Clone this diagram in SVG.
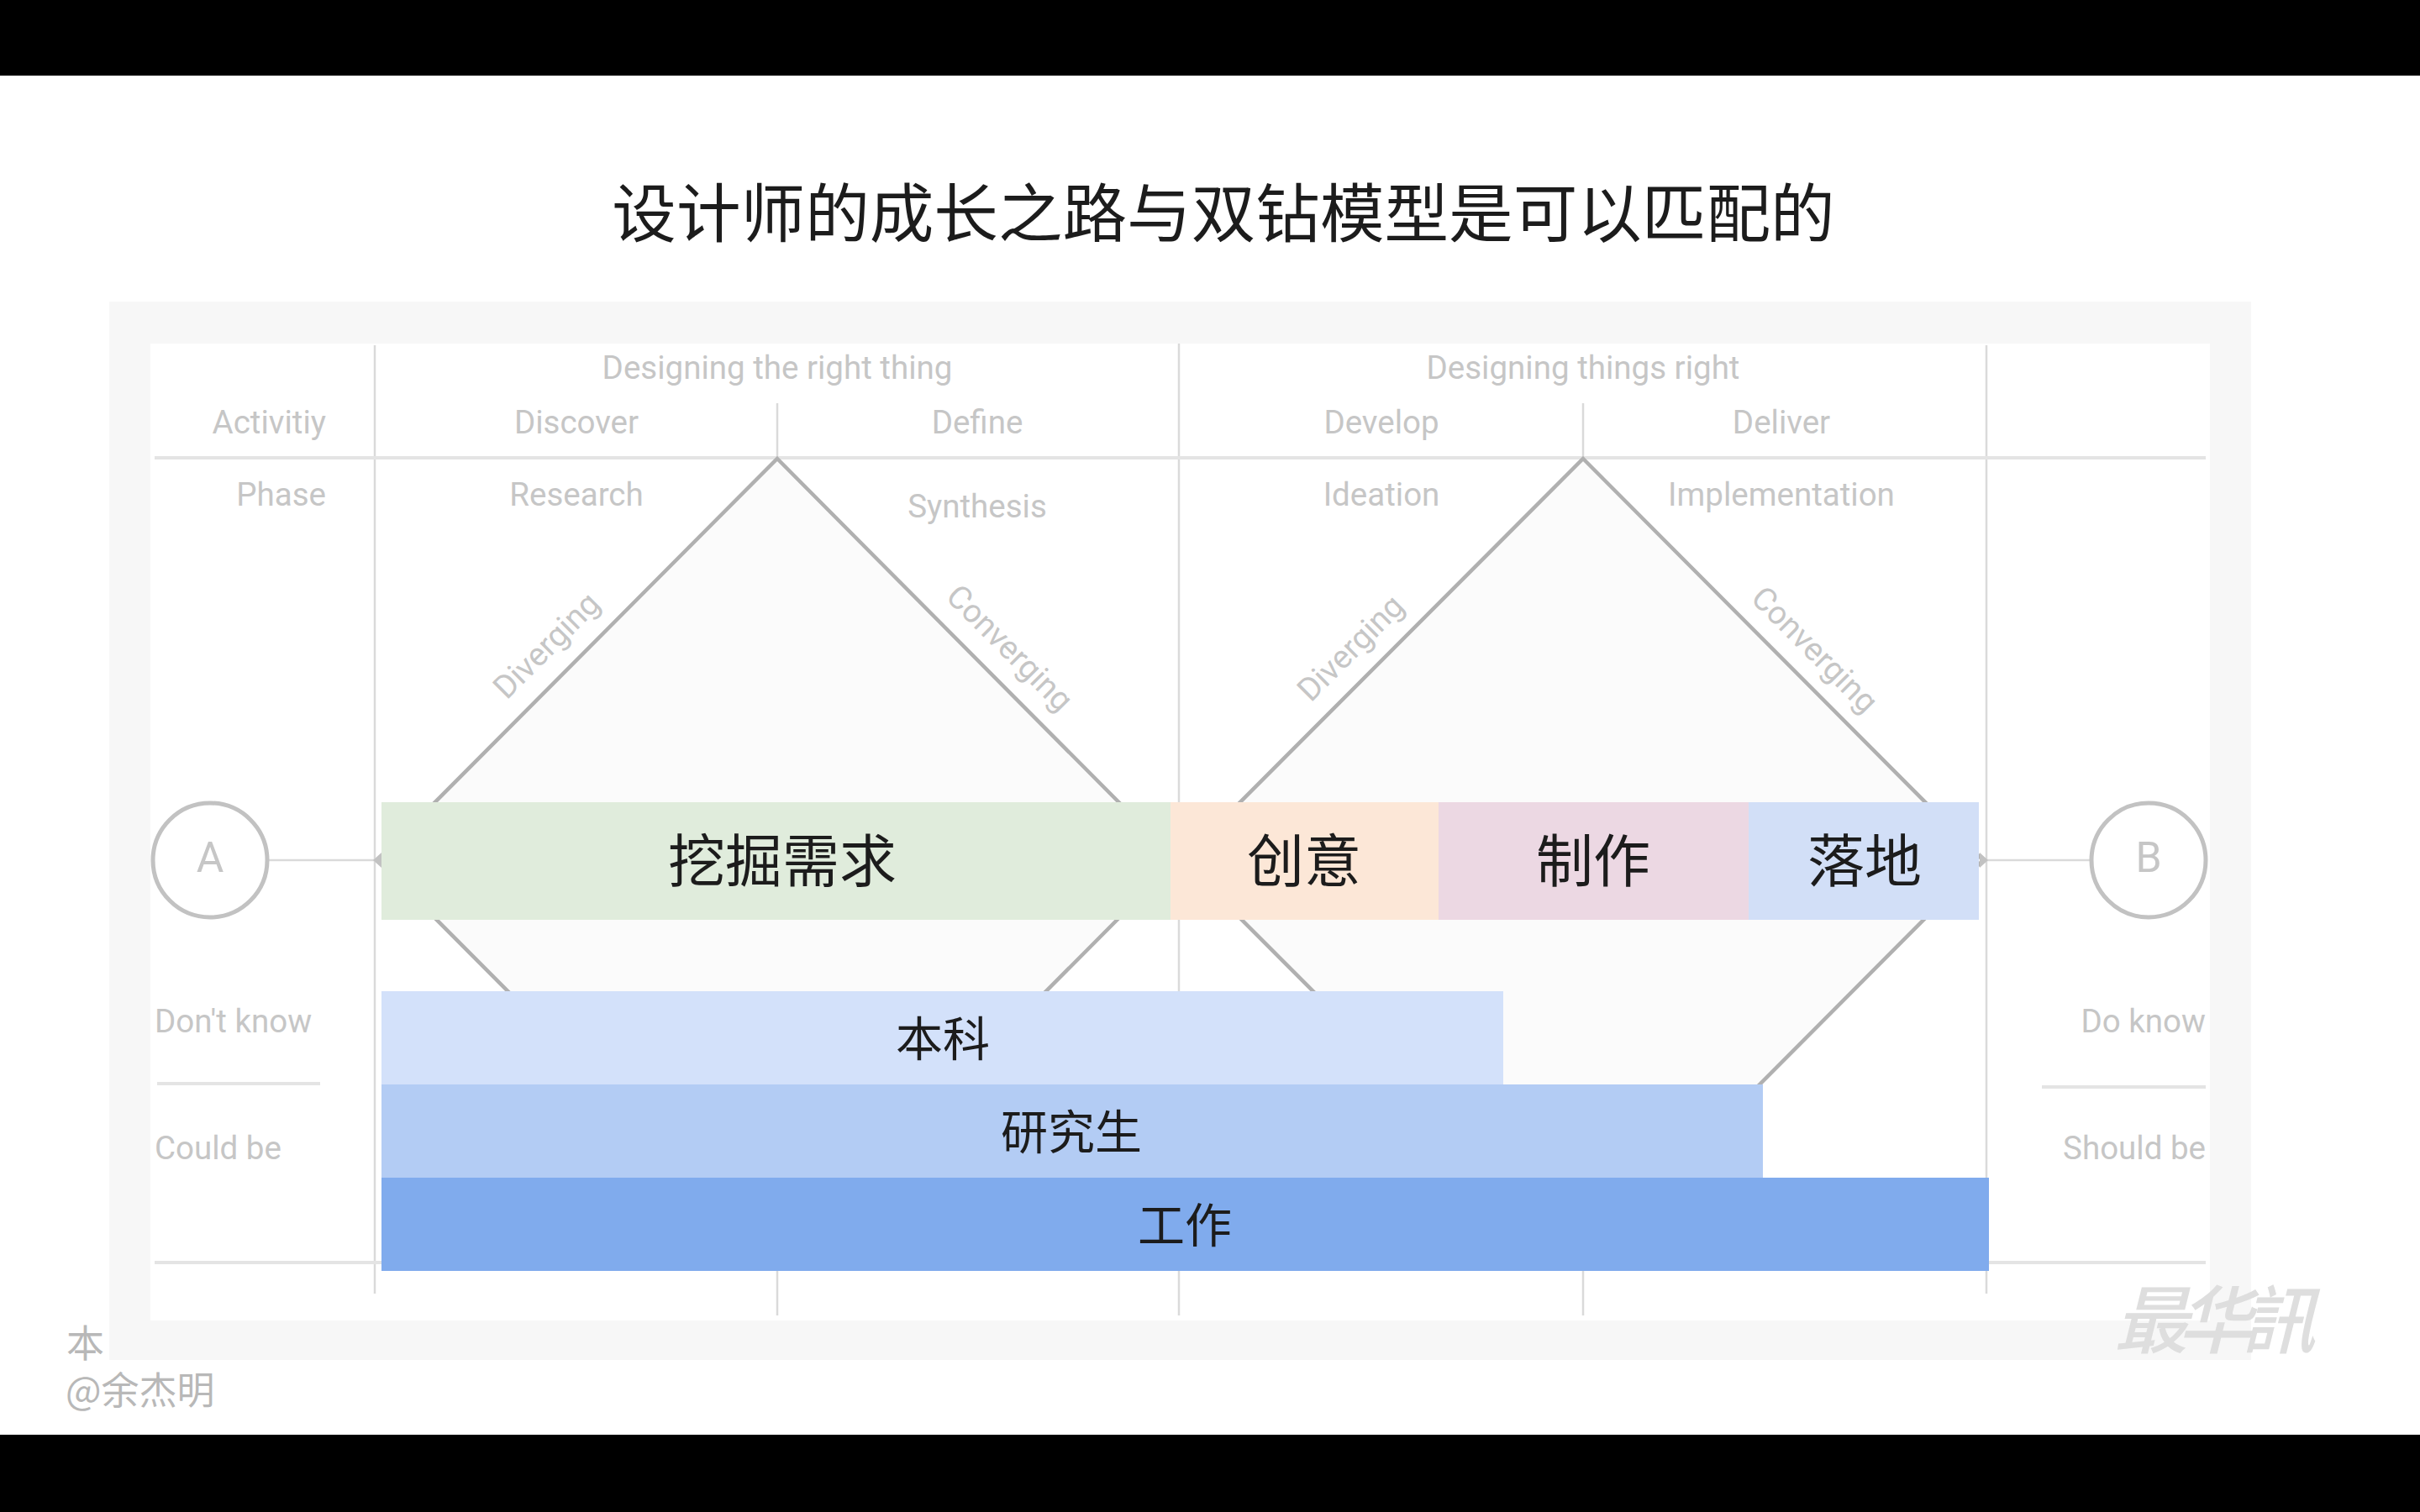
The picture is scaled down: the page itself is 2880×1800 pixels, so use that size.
<svg xmlns="http://www.w3.org/2000/svg" width="2880" height="1800" viewBox="0 0 2880 1800">
<style>
.l{font-family:Roboto,"Liberation Sans",sans-serif;font-size:38.5px;fill:#c6c6c6;text-anchor:middle;dominant-baseline:central}
.e{text-anchor:end}.s{text-anchor:start}
.c{font-family:"Noto Sans CJK SC",sans-serif;fill:#1c1c1c;text-anchor:middle;dominant-baseline:central}
.f{text-anchor:start;fill:#b8b8b8;font-size:45px}
.b1{font-size:68px}.b2{font-size:56px}
.g{stroke:#e4e4e4;stroke-width:4;fill:none}
.v{stroke:#dadada;stroke-width:2.5;fill:none}
.d{fill:#fbfbfb;stroke:#b0b0b0;stroke-width:4.5}
.n{fill:#fff;stroke:#c2c2c2;stroke-width:5}
</style>
<rect width="2880" height="1800" fill="#fff"/>
<rect width="2880" height="90" fill="#000"/>
<rect y="1708" width="2880" height="92" fill="#000"/>
<text id="title" x="1456" y="248" class="c" font-size="76.6" font-weight="400">设计师的成长之路与双钻模型是可以匹配的</text>
<text x="79" y="1596" class="c f">本</text>
<text x="78" y="1652" class="c f">@余杰明</text>
<rect x="130" y="359" width="2549" height="1260" fill="#f7f7f7"/>
<rect x="179" y="409" width="2451" height="1163" fill="#fff"/>
<g id="grid">
<path class="v" d="M446 411V1540M1403 409V1566M2364 411V1540M925 480V545M1884 480V545M925 1510V1566M1884 1510V1566"/>
<path class="g" d="M184 545H2625M184 1503H2625M187 1290H381M2430 1294H2625"/>
</g>
<g id="diamond-1"><path class="d" d="M925 546L1400 1024L925 1502L449 1024Z"/></g>
<g id="diamond-2"><path class="d" d="M1884 546L2360 1024L1884 1502L1407 1024Z"/></g>
<g id="connectors">
<path class="v" d="M320 1024H446M2364 1024H2488"/>
<path fill="#c2c2c2" d="M444 1024l10-9v18zM2366 1024l-10-9v18z"/>
</g>
<g id="node-a"><circle class="n" cx="250" cy="1024" r="68"/><text x="250" y="1021" class="l" style="font-size:50px">A</text></g>
<g id="node-b"><circle class="n" cx="2557" cy="1024" r="68"/><text x="2557" y="1021" class="l" style="font-size:50px">B</text></g>
<g id="labels">
<text x="925" y="437" class="l">Designing the right thing</text>
<text x="1884" y="437" class="l">Designing things right</text>
<text x="388" y="502" class="l e">Activitiy</text>
<text x="686" y="502" class="l">Discover</text>
<text x="1163" y="502" class="l">Define</text>
<text x="1644" y="502" class="l">Develop</text>
<text x="2120" y="502" class="l">Deliver</text>
<text x="388" y="588" class="l e">Phase</text>
<text x="686" y="588" class="l">Research</text>
<text x="1163" y="602" class="l">Synthesis</text>
<text x="1644" y="588" class="l">Ideation</text>
<text x="2120" y="588" class="l">Implementation</text>
<text class="l" transform="translate(650 768) rotate(-45)">Diverging</text>
<text class="l" transform="translate(1202 771) rotate(45)">Converging</text>
<text class="l" transform="translate(1607 771) rotate(-45)">Diverging</text>
<text class="l" transform="translate(2160 773) rotate(45)">Converging</text>
<text x="184" y="1215" class="l s">Don't know</text>
<text x="184" y="1366" class="l s">Could be</text>
<text x="2625" y="1215" class="l e">Do know</text>
<text x="2625" y="1366" class="l e">Should be</text>
</g>
<g id="stage-1"><rect x="454" y="955" width="939" height="140" fill="#e0ecdc"/><text x="931" y="1020" class="c b1">挖掘需求</text></g>
<g id="stage-2"><rect x="1393" y="955" width="319" height="140" fill="#fce7d7"/><text x="1552" y="1020" class="c b1">创意</text></g>
<g id="stage-3"><rect x="1712" y="955" width="369" height="140" fill="#ecd8e3"/><text x="1896" y="1020" class="c b1">制作</text></g>
<g id="stage-4"><rect x="2081" y="955" width="274" height="140" fill="#d2dff7"/><text x="2219" y="1020" class="c b1">落地</text></g>
<g id="bar-1"><rect x="454" y="1180" width="1335" height="111" fill="#d3e1fa"/><text x="1122" y="1232" class="c b2">本科</text></g>
<g id="bar-2"><rect x="454" y="1291" width="1644" height="111" fill="#b3ccf4"/><text x="1275" y="1343" class="c b2">研究生</text></g>
<g id="bar-3"><rect x="454" y="1402" width="1913" height="111" fill="#80abed"/><text x="1410" y="1454" class="c b2">工作</text></g>
<text id="watermark" transform="translate(2516 1604) skewX(-14)" font-family="'Noto Sans CJK SC',sans-serif" font-size="88" font-weight="500" fill="#dedede" textLength="240">最华訊</text>
</svg>
